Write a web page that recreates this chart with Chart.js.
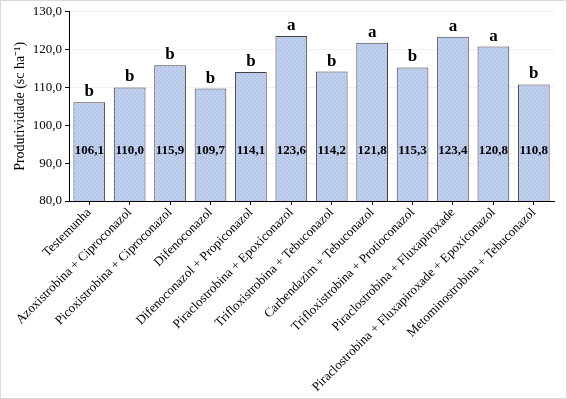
<!DOCTYPE html>
<html>
<head>
<meta charset="utf-8">
<script src="https://cdn.jsdelivr.net/npm/chart.js@4/dist/chart.umd.min.js"></script>
<style>
  html, body { margin: 0; padding: 0; background: #fff; }
  #frame { position: relative; width: 565px; height: 397px; border: 1px solid #d9d9d9; }
  #chart-box { position: absolute; left: 0; top: 0; width: 565px; height: 397px; }
</style>
</head>
<body>
<div id="frame"><div id="chart-box"><canvas id="myChart"></canvas></div></div>
<script>
// tratamentos e produtividade (sc/ha)
const treatments = [
    'Testemunha',
    'Azoxistrobina + Ciproconazol',
    'Picoxistrobina + Ciproconazol',
    'Difenoconazol',
    'Difenoconazol + Propiconazol',
    'Piraclostrobina + Epoxiconazol',
    'Trifloxistrobina + Tebuconazol',
    'Carbendazim + Tebuconazol',
    'Trifloxistrobina + Protioconazol',
    'Piraclostrobina + Fluxapiroxade',
    'Piraclostrobina + Fluxapiroxade + Epoxiconazol',
    'Metominostrobina + Tebuconazol'
];
const yieldValues = [106.1, 110.0, 115.9, 109.7, 114.1, 123.6, 114.2, 121.8, 115.3, 123.4, 120.8, 110.8];
const letters = ['b', 'b', 'b', 'b', 'b', 'a', 'b', 'a', 'b', 'a', 'a', 'b'];
const yTicks = [80, 90, 100, 110, 120, 130];

const serif = "'Liberation Serif'";

// padrao pontilhado das barras
function makePattern() {
    const p = document.createElement('canvas');
    p.width = 4; p.height = 4;
    const c = p.getContext('2d');
    c.fillStyle = '#b7c8ea';
    c.fillRect(0, 0, 4, 4);
    c.fillStyle = '#d6e0f4';
    c.fillRect(0, 0, 1, 1);
    c.fillRect(2, 2, 1, 1);
    return c.createPattern(p, 'repeat');
}

const fmt = v => v.toFixed(1).replace('.', ',');

// escreve o valor dentro da barra e a letra acima
const barLabels = {
    id: 'barLabels',
    afterDatasetsDraw(chart) {
        const ctx = chart.ctx;
        const meta = chart.getDatasetMeta(0);
        const yScale = chart.scales.y;
        ctx.save();
        ctx.textAlign = 'center';
        ctx.fillStyle = '#000';
        meta.data.forEach((bar, i) => {
            ctx.font = 'bold 13px ' + serif;
            ctx.textBaseline = 'middle';
            ctx.fillText(fmt(yieldValues[i]), bar.x, yScale.getPixelForValue(93.2));
            ctx.font = 'bold 17px ' + serif;
            ctx.textBaseline = 'alphabetic';
            ctx.fillText(letters[i], bar.x, bar.y - 6);
        });
        ctx.restore();
    }
};

function createChart() {
    const ctx = document.getElementById('myChart').getContext('2d');
    return new Chart(ctx, {
        type: 'bar',
        data: {
            labels: treatments,
            datasets: [{
                data: yieldValues,
                backgroundColor: makePattern(),
                borderColor: '#404040',
                borderWidth: 1,
                categoryPercentage: 0.8,
                barPercentage: 0.98
            }]
        },
        options: {
            responsive: true,
            maintainAspectRatio: false,
            animation: false,
            layout: { padding: { top: 9, right: 12, left: 11, bottom: 6 } },
            plugins: {
                legend: { display: false },
                tooltip: { enabled: false }
            },
            scales: {
                x: {
                    grid: { display: true, drawOnChartArea: false, offset: false, color: '#000', tickLength: 4 },
                    border: { color: '#000', width: 1 },
                    ticks: {
                        color: '#000',
                        font: { family: serif, size: 13 },
                        maxRotation: 45,
                        minRotation: 45,
                        autoSkip: false,
                        padding: 0
                    }
                },
                y: {
                    min: 80,
                    max: 130,
                    afterBuildTicks: axis => { axis.ticks = yTicks.map(v => ({ value: v })); },
                    grid: { color: '#f0f0f0', tickLength: 4, tickColor: '#000' },
                    border: { color: '#000', width: 1 },
                    ticks: {
                        color: '#000',
                        font: { family: serif, size: 13 },
                        padding: 3,
                        callback: v => fmt(v)
                    },
                    title: {
                        display: true,
                        text: 'Produtividade (sc ha\u207B\u00B9)',
                        color: '#000',
                        font: { family: serif, size: 14 },
                        padding: { top: 0, bottom: 1 }
                    }
                }
            }
        },
        plugins: [barLabels]
    });
}

document.fonts.load("13px 'Liberation Serif'").then(() => {
    document.fonts.load("bold 13px 'Liberation Serif'").then(() => createChart());
});
</script>
</body>
</html>
